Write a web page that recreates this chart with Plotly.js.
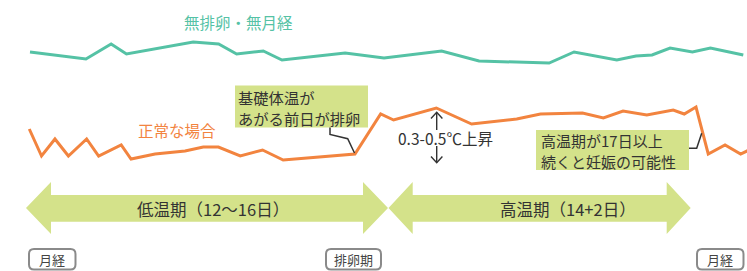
<!DOCTYPE html>
<html>
<head>
<meta charset="utf-8">
<script src="https://cdn.plot.ly/plotly-3.0.1.min.js"></script>
<style>
html,body{margin:0;padding:0;background:#fff;}
#chart{width:747px;height:271px;}
</style>
</head>
<body>
<div id="chart"></div>
<script>
// ---- data (schematic basal body temperature, days from menstruation start) ----
const anovDays  = [0.00, 2.33, 3.38, 4.02, 6.80, 7.86, 8.61, 9.72, 10.50, 13.13, 14.75, 17.15, 18.71, 21.63, 22.67, 24.45, 25.25, 25.92, 26.67, 27.60, 28.35, 29.72];
const anovTemps = [37.48, 37.41, 37.56, 37.46, 37.58, 37.56, 37.46, 37.49, 37.40, 37.47, 37.42, 37.49, 37.39, 37.37, 37.48, 37.40, 37.44, 37.45, 37.52, 37.48, 37.52, 37.45];

const normDays  = [-0.03, 0.48, 1.04, 1.60, 2.36, 2.86, 3.80, 4.21, 5.21, 6.46, 7.22, 7.85, 8.76, 9.69, 10.55, 13.54, 14.61, 15.15, 16.93, 18.40, 20.28, 21.27, 23.02, 23.89, 24.71, 25.70, 26.80, 27.26, 27.75, 28.26, 28.96, 29.61, 29.96];
const normTemps = [36.71, 36.44, 36.61, 36.44, 36.61, 36.44, 36.55, 36.41, 36.46, 36.49, 36.53, 36.53, 36.44, 36.50, 36.40, 36.46, 36.86, 36.80, 36.92, 36.76, 36.81, 36.86, 36.87, 36.82, 36.89, 36.85, 36.90, 36.86, 36.93, 36.46, 36.55, 36.46, 36.50];

const seriesLabels = ["無排卵・無月経", "正常な場合"];
const calloutOvulation = ["基礎体温が", "あがる前日が排卵"];
const calloutPregnancy = ["高温期が17日以上", "続くと妊娠の可能性"];
const riseLabel = "0.3-0.5℃上昇";
const phaseLabels = ["低温期（12〜16日）", "高温期（14+2日）"];
const eventLabels = ["月経", "排卵期", "月経"];

// ---- layout helpers (pixel -> paper) ----
const W = 747, H = 271;
const X = px => px / W;
const Y = py => 1 - py / H;
const path = pts => pts.map((p, i) => (i === 0 ? "M" : "L") + X(p[0]).toFixed(5) + "," + Y(p[1]).toFixed(5)).join(" ");

const GREEN = "#55c2a5", ORANGE = "#f2843f", LIME = "#d4e28a", DARK = "#333333";
const JP = '"Noto Sans CJK JP", "Noto Sans", sans-serif';

function pill(x0, y0, x1, y1, r) {
  const f = v => v.toFixed(5);
  const a = X(x0), b = X(x1), t = Y(y0), u = Y(y1), rx = r / W, ry = r / H;
  return `M${f(a+rx)},${f(t)} L${f(b-rx)},${f(t)} Q${f(b)},${f(t)} ${f(b)},${f(t-ry)} L${f(b)},${f(u+ry)} Q${f(b)},${f(u)} ${f(b-rx)},${f(u)} L${f(a+rx)},${f(u)} Q${f(a)},${f(u)} ${f(a)},${f(u+ry)} L${f(a)},${f(t-ry)} Q${f(a)},${f(t)} ${f(a+rx)},${f(t)} Z`;
}

const traces = [
  {x: anovDays, y: anovTemps, mode: "lines", line: {color: GREEN, width: 3}, hoverinfo: "skip", name: seriesLabels[0]},
  {x: normDays, y: normTemps, mode: "lines", line: {color: ORANGE, width: 3}, hoverinfo: "skip", name: seriesLabels[1]}
];

const shapes = [
  // phase double arrows
  {type: "path", xref: "paper", yref: "paper", fillcolor: LIME, line: {width: 0},
   path: path([[26,208],[51,182],[51,195],[363,195],[363,182],[388,208],[363,234],[363,221.7],[51,221.7],[51,234]]) + " Z"},
  {type: "path", xref: "paper", yref: "paper", fillcolor: LIME, line: {width: 0},
   path: path([[388.5,208],[412.7,182],[412.7,195],[666.7,195],[666.7,182],[690.7,208],[666.7,234],[666.7,221.7],[412.7,221.7],[412.7,234]]) + " Z"},
  // callout boxes
  {type: "rect", xref: "paper", yref: "paper", x0: X(235), x1: X(368), y0: Y(85.5), y1: Y(127.5), fillcolor: LIME, line: {width: 0}},
  {type: "rect", xref: "paper", yref: "paper", x0: X(536), x1: X(689), y0: Y(130), y1: Y(170), fillcolor: LIME, line: {width: 0}},
  // leader lines
  {type: "path", xref: "paper", yref: "paper", line: {color: DARK, width: 1.5},
   path: path([[330,127.5],[330,134.5],[347.7,138.7],[354.5,153]])},
  {type: "path", xref: "paper", yref: "paper", line: {color: DARK, width: 1.5},
   path: path([[689,148.3],[696.7,148.3],[701.7,133.3]])},
  // rise arrows
  {type: "path", xref: "paper", yref: "paper", line: {color: DARK, width: 1.4},
   path: path([[436.7,112.5],[436.7,130]])},
  {type: "path", xref: "paper", yref: "paper", line: {color: DARK, width: 1.4},
   path: path([[431,118.5],[436.7,112.3],[442.4,118.5]])},
  {type: "path", xref: "paper", yref: "paper", line: {color: DARK, width: 1.4},
   path: path([[436.7,146],[436.7,162.5]])},
  {type: "path", xref: "paper", yref: "paper", line: {color: DARK, width: 1.4},
   path: path([[431,156.5],[436.7,162.7],[442.4,156.5]])},
  // event pills
  {type: "path", xref: "paper", yref: "paper", fillcolor: "#ffffff", line: {color: "#8a8a8a", width: 2}, path: pill(29, 249, 75.5, 269.5, 5)},
  {type: "path", xref: "paper", yref: "paper", fillcolor: "#ffffff", line: {color: "#8a8a8a", width: 2}, path: pill(326, 249, 381, 269.5, 5)},
  {type: "path", xref: "paper", yref: "paper", fillcolor: "#ffffff", line: {color: "#8a8a8a", width: 2}, path: pill(697, 249, 743.5, 269.5, 5)}
];

const ann = (text, px, py, opts) => Object.assign({
  text: text, xref: "paper", yref: "paper", x: X(px), y: Y(py), showarrow: false,
  xanchor: "center", yanchor: "middle", borderpad: 0, font: {family: JP, size: 14, color: DARK}
}, opts || {});

const annotations = [
  ann(seriesLabels[0], 238, 22, {font: {family: JP, size: 15.5, color: GREEN}}),
  ann(seriesLabels[1], 177, 130, {font: {family: JP, size: 15.5, color: ORANGE}}),
  ann(calloutOvulation[0], 237, 97, {xanchor: "left", font: {family: JP, size: 15.3, color: DARK}}),
  ann(calloutOvulation[1], 237, 117.6, {xanchor: "left", font: {family: JP, size: 15.3, color: DARK}}),
  ann(calloutPregnancy[0], 540, 141, {xanchor: "left", font: {family: JP, size: 15, color: DARK}}),
  ann(calloutPregnancy[1], 540, 161.3, {xanchor: "left", font: {family: JP, size: 15, color: DARK}}),
  ann(riseLabel, 445.5, 137.5, {font: {family: JP, size: 15.5, color: DARK}}),
  ann(phaseLabels[0], 212.5, 209, {font: {family: JP, size: 16.5, color: DARK}}),
  ann(phaseLabels[1], 567.5, 209, {font: {family: JP, size: 16.5, color: DARK}}),
  ann(eventLabels[0], 52.2, 259.5, {font: {family: JP, size: 13, color: "#444"}}),
  ann(eventLabels[1], 353.5, 259.5, {font: {family: JP, size: 13, color: "#444"}}),
  ann(eventLabels[2], 720.2, 259.5, {font: {family: JP, size: 13, color: "#444"}})
];

const layout = {
  width: W, height: H,
  margin: {l: 0, r: 0, t: 0, b: 0, pad: 0},
  paper_bgcolor: "#ffffff", plot_bgcolor: "#ffffff",
  showlegend: false,
  xaxis: {range: [-1.25, 29.875], visible: false, fixedrange: true},
  yaxis: {range: [35.29, 38.0], visible: false, fixedrange: true},
  shapes: shapes,
  annotations: annotations
};

Plotly.newPlot("chart", traces, layout, {staticPlot: true, displayModeBar: false});
</script>
</body>
</html>
